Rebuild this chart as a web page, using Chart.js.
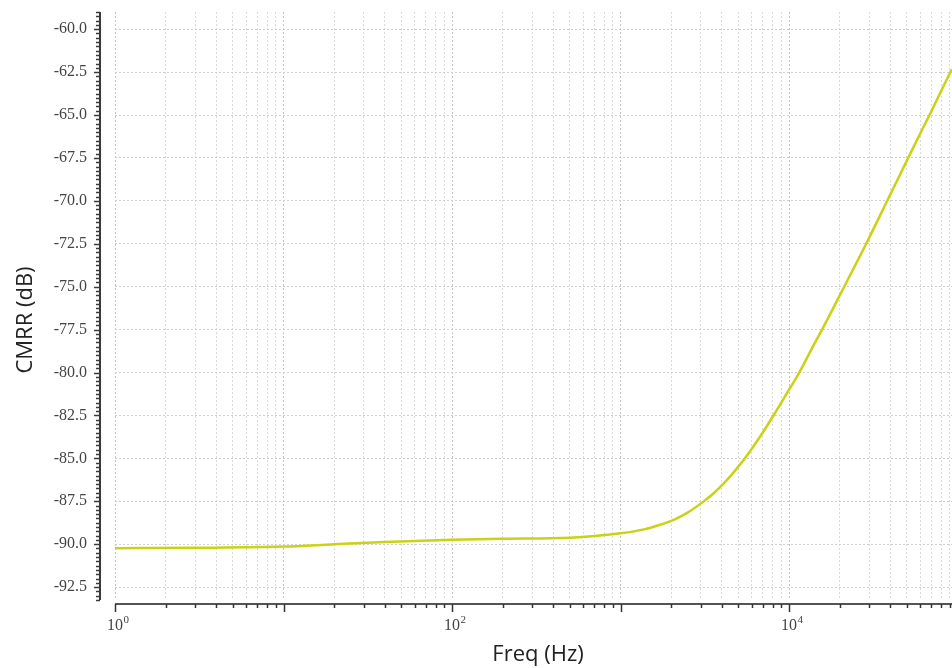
<!DOCTYPE html>
<html>
<head>
<meta charset="utf-8">
<script src="https://cdn.jsdelivr.net/npm/chart.js@4.4.1/dist/chart.umd.min.js"></script>
<style>
  html, body { margin: 0; padding: 0; background: #ffffff; }
  #wrap { width: 952px; height: 668px; }
</style>
</head>
<body>
<div id="wrap"><canvas id="c" width="952" height="668"></canvas></div>
<script>
// ---- data ----
const freqHz = [1, 3, 10, 20, 40, 100, 200, 500, 1000, 1400, 1700, 2100, 2500, 3100, 3600, 4100, 4800, 5700, 7000, 8300, 10000, 11350, 14000, 15800, 21500, 29200, 38900, 51800, 69300, 90200, 92700];
const cmrrDb = [-90.23, -90.21, -90.14, -90.0, -89.87, -89.74, -89.68, -89.62, -89.36, -89.12, -88.88, -88.55, -88.16, -87.52, -87.0, -86.46, -85.7, -84.76, -83.48, -82.32, -81.0, -80.1, -78.4, -77.45, -74.9, -72.35, -69.85, -67.35, -64.85, -62.55, -62.33];
const xMin = 1, xMax = 92700;
const yMin = -93.25, yMax = -59.0;
const yMajorStep = 2.5, yMinorStep = 0.25;
const xLabelExponents = [0, 2, 4];
const xTitle = 'Freq (Hz)';
const yTitle = 'CMRR (dB)';

const LABEL_FONT = '"Liberation Serif", "DejaVu Serif", serif';
const TITLE_FONT = '"Open Sans", "Noto Sans", sans-serif';

function isDecade(v) {
  const e = Math.log10(v);
  return Math.abs(e - Math.round(e)) < 1e-9;
}

function zeroPad(scale) {
  scale.paddingTop = 0; scale.paddingBottom = 0;
  scale.paddingLeft = 0; scale.paddingRight = 0;
}

const axisDeco = {
  id: 'axisDeco',
  afterDraw(chart) {
    const { ctx, chartArea: ca, scales } = chart;
    const x = scales.x, y = scales.y;
    ctx.save();
    // y axis line + ticks
    ctx.strokeStyle = '#3a3a3a';
    ctx.lineWidth = 2;
    const ax = ca.left - 15;
    ctx.beginPath();
    ctx.moveTo(ax, ca.top);
    ctx.lineTo(ax, ca.bottom);
    ctx.stroke();
    ctx.lineWidth = 1.5;
    const n = Math.round((yMax - yMin) / yMinorStep);
    for (let k = 0; k <= n; k++) {
      const v = yMin + k * yMinorStep;
      const py = Math.round(y.getPixelForValue(v)) + 0.5;
      const r = v / yMajorStep;
      const major = Math.abs(r - Math.round(r)) < 1e-6;
      const len = major ? 6 : 4;
      ctx.beginPath();
      ctx.moveTo(ax, py);
      ctx.lineTo(ax - len, py);
      ctx.stroke();
    }
    // x axis line + ticks
    const ay = ca.bottom + 4;
    ctx.strokeStyle = '#555555';
    ctx.lineWidth = 2;
    ctx.beginPath();
    ctx.moveTo(ca.left, ay);
    ctx.lineTo(ca.right, ay);
    ctx.stroke();
    ctx.lineWidth = 1.5;
    ctx.strokeStyle = '#333333';
    x.ticks.forEach(t => {
      const px = Math.round(x.getPixelForValue(t.value)) + 0.5;
      const len = isDecade(t.value) ? 8 : 4;
      ctx.beginPath();
      ctx.moveTo(px, ay);
      ctx.lineTo(px, ay + len);
      ctx.stroke();
    });
    // x labels 10^n
    ctx.fillStyle = '#444444';
    ctx.textBaseline = 'alphabetic';
    xLabelExponents.forEach(e => {
      const px = x.getPixelForValue(Math.pow(10, e));
      ctx.font = '16px ' + LABEL_FONT;
      ctx.textAlign = 'center';
      ctx.fillText('10', px, 630);
      const w = ctx.measureText('10').width;
      ctx.font = '11px ' + LABEL_FONT;
      ctx.textAlign = 'left';
      ctx.fillText(String(e), px + w / 2 + 0.5, 622.5);
    });
    // titles
    ctx.fillStyle = '#222222';
    ctx.font = '22px ' + TITLE_FONT;
    ctx.textAlign = 'center';
    ctx.textBaseline = 'middle';
    ctx.fillText(xTitle, 538, 655);
    ctx.translate(26, 320);
    ctx.rotate(-Math.PI / 2);
    ctx.fillText(yTitle, 0, 0);
    ctx.restore();
  }
};

new Chart(document.getElementById('c'), {
  type: 'line',
  data: {
    datasets: [{
      data: freqHz.map((f, i) => ({ x: f, y: cmrrDb[i] })),
      borderColor: '#c9d214',
      borderWidth: 2.5,
      pointRadius: 0,
      fill: false,
      cubicInterpolationMode: 'monotone'
    }]
  },
  options: {
    responsive: false,
    animation: false,
    devicePixelRatio: 1,
    layout: { padding: { left: 0, right: 0, top: 12, bottom: 0 } },
    plugins: { legend: { display: false }, tooltip: { enabled: false } },
    scales: {
      x: {
        type: 'logarithmic',
        min: xMin,
        max: xMax,
        afterBuildTicks(scale) {
          scale.ticks = scale.ticks.filter(t => {
            const m = t.value / Math.pow(10, Math.floor(Math.log10(t.value) + 1e-9));
            return Math.abs(m - Math.round(m)) < 1e-6 && t.value <= xMax;
          });
        },
        afterFit(scale) { scale.height = 68; zeroPad(scale); },
        ticks: { display: false, autoSkip: false },
        border: { display: false, dash: [2, 2] },
        grid: {
          drawTicks: false,
          lineWidth: 1,
          color: ctx => (ctx.tick && isDecade(ctx.tick.value)) ? '#c4c4c4' : '#dadada'
        }
      },
      y: {
        type: 'linear',
        min: yMin,
        max: yMax,
        afterFit(scale) { scale.width = 115; zeroPad(scale); },
        ticks: {
          stepSize: yMajorStep,
          includeBounds: false,
          padding: 28,
          color: '#444444',
          font: { family: LABEL_FONT, size: 16 },
          callback: v => Number(v).toFixed(1)
        },
        border: { display: false, dash: [2, 2] },
        grid: { drawTicks: false, lineWidth: 1, color: '#cfcfcf' }
      }
    }
  },
  plugins: [axisDeco]
});
</script>
</body>
</html>
